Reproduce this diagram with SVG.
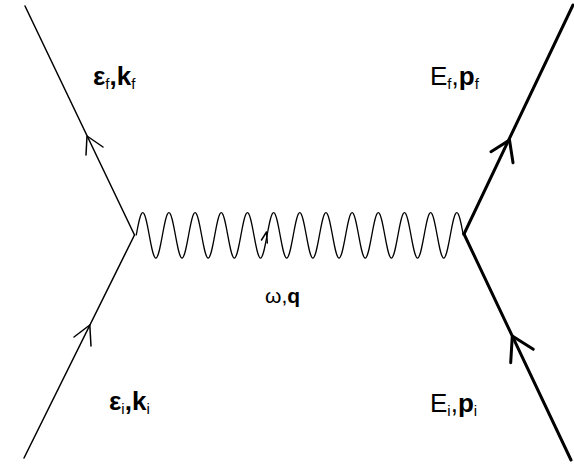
<svg xmlns="http://www.w3.org/2000/svg" width="574" height="464" viewBox="0 0 574 464">
<style>
.lbl{font-family:"Liberation Sans",Arial,sans-serif;font-size:26px;fill:#000}
.b{font-weight:bold}
.sub{font-size:15px}
.thin{fill:none;stroke:#000;stroke-width:1.5;stroke-linecap:round;stroke-linejoin:round}
.thick{fill:none;stroke:#000;stroke-width:3;stroke-linecap:round;stroke-linejoin:round}
.wave{fill:none;stroke:#000;stroke-width:1.3}
</style>
<rect width="574" height="464" fill="#fff"/>
<g id="connectors">
<g id="electron-out">
<path class="thin" d="M25,6 L134.5,235"/>
<path class="thin" d="M103,147 L87,136 L86,155"/>
</g>
<g id="electron-in">
<path class="thin" d="M24,458 L134.5,235"/>
<path class="thin" d="M74,337 L89.8,325 L91,346"/>
</g>
<g id="nucleus-out">
<path class="thick" d="M464,234 L573,5"/>
<path class="thick" d="M491,151.7 L509.5,140 L513,162.7"/>
</g>
<g id="nucleus-in">
<path class="thick" d="M571,460 L464,234"/>
<path class="thick" d="M533.3,349.3 L512.3,336 L510.7,362.7"/>
</g>
<g id="photon">
<path class="wave" d="M136.2,235.3 c2.134,-11.655 4.176,-22.75 6.543,-22.75
s4.409,11.095 6.543,22.75 s4.176,22.75 6.543,22.75 s4.409,-11.095 6.543,-22.75 s4.176,-22.75 6.543,-22.75
s4.409,11.095 6.543,22.75 s4.176,22.75 6.543,22.75 s4.409,-11.095 6.543,-22.75 s4.176,-22.75 6.543,-22.75
s4.409,11.095 6.543,22.75 s4.176,22.75 6.543,22.75 s4.409,-11.095 6.543,-22.75 s4.176,-22.75 6.543,-22.75
s4.409,11.095 6.543,22.75 s4.176,22.75 6.543,22.75 s4.409,-11.095 6.543,-22.75 s4.176,-22.75 6.543,-22.75
s4.409,11.095 6.543,22.75 s4.176,22.75 6.543,22.75 s4.409,-11.095 6.543,-22.75 s4.176,-22.75 6.543,-22.75
s4.409,11.095 6.543,22.75 s4.176,22.75 6.543,22.75 s4.409,-11.095 6.543,-22.75 s4.176,-22.75 6.543,-22.75
s4.409,11.095 6.543,22.75 s4.176,22.75 6.543,22.75 s4.409,-11.095 6.543,-22.75 s4.176,-22.75 6.543,-22.75
s4.409,11.095 6.543,22.75 s4.176,22.75 6.543,22.75 s4.409,-11.095 6.543,-22.75 s4.176,-22.75 6.543,-22.75
s4.409,11.095 6.543,22.75 s4.176,22.75 6.543,22.75 s4.409,-11.095 6.543,-22.75 s4.176,-22.75 6.543,-22.75
s4.409,11.095 6.543,22.75 s4.176,22.75 6.543,22.75 s4.409,-11.095 6.543,-22.75 s4.176,-22.75 6.543,-22.75
s4.409,11.095 6.543,22.75 s4.176,22.75 6.543,22.75 s4.409,-11.095 6.543,-22.75 s4.176,-22.75 6.543,-22.75
s4.409,11.095 6.543,22.75 s4.176,22.75 6.543,22.75 s4.409,-11.095 6.543,-22.75 s4.176,-22.75 6.543,-22.75
s4.409,11.095 6.543,22.75"/>
<path class="thin" stroke-width="1.2" d="M261.5,240 L266.5,232 L267.3,243"/>
</g>
</g>
<g id="label-eps-f"><text class="lbl" x="93" y="85"><tspan class="b">ε</tspan><tspan class="sub" dy="4">f</tspan><tspan dy="-4" class="b">,k</tspan><tspan class="sub" dy="4">f</tspan></text></g>
<g id="label-E-f"><text class="lbl" x="430" y="85">E<tspan class="sub" dy="4">f</tspan><tspan dy="-4">,</tspan><tspan class="b">p</tspan><tspan class="sub" dy="4">f</tspan></text></g>
<g id="label-omega"><text class="lbl" x="265" y="303" style="font-size:21px">ω,<tspan class="b">q</tspan></text></g>
<g id="label-eps-i"><text class="lbl" x="109" y="410"><tspan class="b">ε</tspan><tspan class="sub" dy="4">i</tspan><tspan dy="-4" class="b">,k</tspan><tspan class="sub" dy="4">i</tspan></text></g>
<g id="label-E-i"><text class="lbl" x="430" y="412">E<tspan class="sub" dy="4">i</tspan><tspan dy="-4">,</tspan><tspan class="b">p</tspan><tspan class="sub" dy="4">i</tspan></text></g>
</svg>
